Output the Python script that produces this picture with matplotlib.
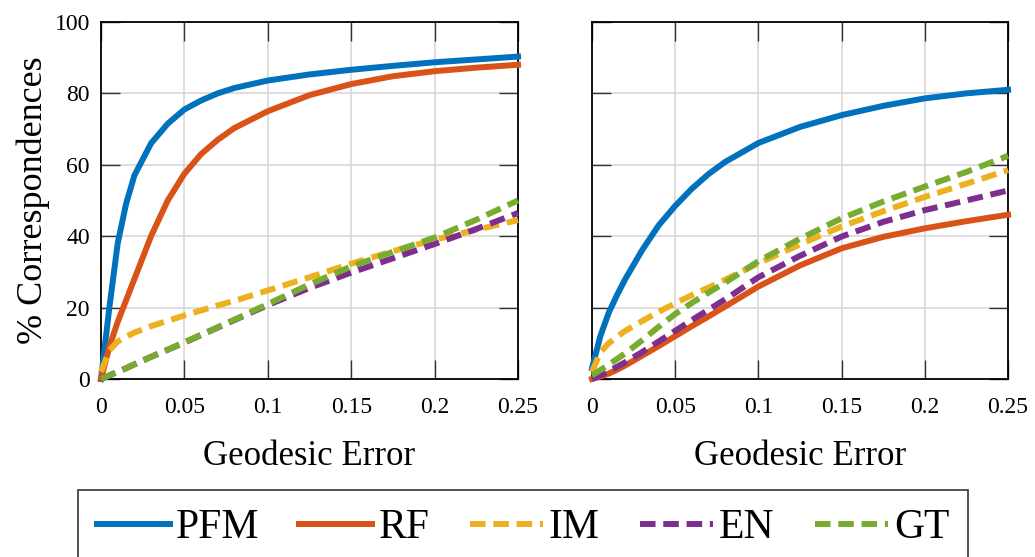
import matplotlib

matplotlib.use("Agg")
import matplotlib.pyplot as plt

# MATLAB default line colours
BLUE = "#0072BD"
ORANGE = "#D95319"
YELLOW = "#EDB120"
PURPLE = "#7E2F8E"
GREEN = "#77AC30"
GRID = "#D4D4D4"

geodesic_error = [0, 0.005, 0.01, 0.015, 0.02, 0.03, 0.04, 0.05, 0.06, 0.07, 0.08,
                  0.1, 0.125, 0.15, 0.175, 0.2, 0.225, 0.25]

# left panel
left_pfm = [0, 20, 38, 49, 57, 66, 71.5, 75.5, 78, 80, 81.5, 83.6, 85.3, 86.6, 87.7, 88.7, 89.5, 90.3]
left_rf = [0, 9, 16, 22, 28, 40, 50, 57.5, 63, 67, 70.3, 75, 79.5, 82.6, 84.8, 86.2, 87.2, 88]
left_im = [2, 8, 10.5, 11.8, 13, 14.8, 16.3, 17.8, 19.2, 20.6, 21.9, 24.8, 28.5, 32.3, 35.8, 39, 41.8, 44.5]
left_en = [0, 1, 2, 3, 4.1, 6.2, 8.2, 10.2, 12.3, 14.4, 16.5, 20.7, 25.5, 29.8, 33.8, 37.8, 42, 46.5]
left_gt = [0, 1, 2, 3, 4.1, 6.2, 8.2, 10.3, 12.4, 14.5, 16.6, 21, 26.5, 31.5, 35.6, 39.6, 44.6, 50]

# right panel
right_pfm = [3, 12, 18.5, 23.5, 28, 36, 43, 48.5, 53.3, 57.4, 60.8, 66.1, 70.6, 73.9, 76.5, 78.6, 80, 81]
right_rf = [0, 0.7, 1.5, 2.6, 3.8, 6.5, 9.2, 12, 14.8, 17.5, 20.3, 25.9, 31.8, 36.6, 39.8, 42.2, 44.2, 46]
right_im = [2, 7.5, 10, 11.8, 13.5, 16.2, 18.8, 21.2, 23.5, 25.6, 27.8, 32.4, 37.7, 42.7, 47, 51, 54.7, 58.5]
right_en = [0, 1, 2.2, 3.4, 4.7, 7.5, 10.5, 13.5, 16.5, 19.4, 22.3, 28.5, 34.5, 39.9, 44, 47.3, 50, 52.8]
right_gt = [1, 2.5, 4, 5.6, 7.2, 10.8, 14.6, 18.2, 21.3, 24.2, 27, 33, 39.3, 45, 49.7, 53.9, 58, 62.5]

labels = ["PFM", "RF", "IM", "EN", "GT"]
colors = [BLUE, ORANGE, YELLOW, PURPLE, GREEN]
styles = ["-", "-", "--", "--", "--"]

x_ticks = [0, 0.05, 0.1, 0.15, 0.2, 0.25]
x_ticklabels = ["0", "0.05", "0.1", "0.15", "0.2", "0.25"]
y_ticks = [0, 20, 40, 60, 80, 100]

plt.rcParams.update({
    "font.family": ["Liberation Serif", "DejaVu Serif"],
})


def draw_panel(ax, series, show_ylabels):
    for ys, c, ls, lab in zip(series, colors, styles, labels):
        line, = ax.plot(geodesic_error, ys, color=c, linestyle=ls, linewidth=4.3,
                        label=lab, clip_on=False, zorder=3)
        if ls == "--":
            line.set_dashes((2.6, 1.3))
    ax.set_xlim(0, 0.25)
    ax.set_ylim(0, 100)
    ax.set_xticks(x_ticks)
    ax.set_xticklabels(x_ticklabels)
    ax.set_yticks(y_ticks)
    if not show_ylabels:
        ax.set_yticklabels([])
    ax.grid(True, color=GRID, linewidth=1.1)
    ax.set_axisbelow(True)
    ax.tick_params(direction="in", length=14, width=1.0, color="#333333",
                   top=True, right=True, labelsize=17)
    ax.tick_params(axis="x", pad=13)
    ax.tick_params(axis="y", pad=8)
    for s in ax.spines.values():
        s.set_linewidth(1.3)
        s.set_color("black")
    ax.set_xlabel("Geodesic Error", fontsize=25, labelpad=16)


fig = plt.figure(figsize=(10.35, 5.57), dpi=100)
ax_l = fig.add_axes([0.0976, 0.3196, 0.4029, 0.641])
ax_r = fig.add_axes([0.572, 0.3196, 0.402, 0.641])

draw_panel(ax_l, [left_pfm, left_rf, left_im, left_en, left_gt], True)
draw_panel(ax_r, [right_pfm, right_rf, right_im, right_en, right_gt], False)
ax_l.set_ylabel("% Correspondences", fontsize=26, labelpad=3)

handles, labs = ax_l.get_legend_handles_labels()
leg = fig.legend(handles, labs, loc="upper left", ncol=5, mode="expand",
                 bbox_to_anchor=(78 / 1035, 1 - 490 / 557 - 0.01, 890 / 1035, 0.01),
                 bbox_transform=fig.transFigure, fontsize=30, frameon=True,
                 fancybox=False, edgecolor="black", borderpad=0.45, borderaxespad=0,
                 handlelength=1.75, handletextpad=0.15, columnspacing=0.8)
leg.get_frame().set_linewidth(1.2)

fig.savefig("out.png", dpi=100)
